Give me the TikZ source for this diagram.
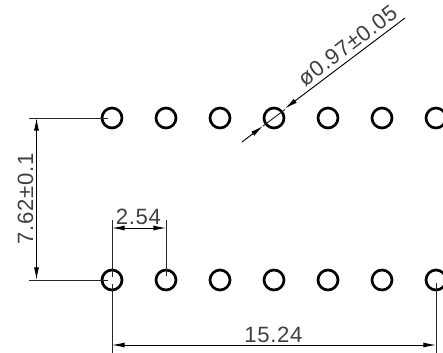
\documentclass[tikz,border=0pt]{standalone}
\usepackage{fontspec}
\setmainfont{Liberation Sans}
\newfontfamily\dimfont{Liberation Sans}[LetterSpace=3]
\usetikzlibrary{arrows.meta}
\tikzset{
  hole/.style={circle,draw=black,line width=2pt,minimum size=15pt,inner sep=0pt},
  dimline/.style={line width=0.7pt,black,{Latex[length=9.5pt,width=3.8pt]}-{Latex[length=9.5pt,width=3.8pt]}},
  leaderline/.style={line width=0.7pt,black,-{Latex[length=9.5pt,width=3.8pt]}},
  extline/.style={line width=0.7pt,black!85},
  dimtext/.style={inner sep=0pt,font=\dimfont\fontsize{16.6pt}{17pt}\selectfont,text=black!75}
}
\begin{document}
\begin{tikzpicture}[x=0.75pt,y=-0.75pt]
\useasboundingbox[clip] (0,0) rectangle (443,353);
\foreach \i/\px in {1/112,2/166,3/220,4/274,5/328,6/382,7/436}{
  \node[hole] (t\i) at (\px,118) {};
  \node[hole] (b\i) at (\px,280) {};
}
% free ends
\coordinate (tl) at (29,118);
\coordinate (bl) at (29,280);
\coordinate (tend) at (108,118);
\coordinate (bend) at (108,280);
\coordinate (vt) at (36.5,118);
\coordinate (vb) at (36.5,280);
\coordinate (a1) at (112,220);
\coordinate (a2) at (112,277);
\coordinate (a3) at (112,284);
\coordinate (a4) at (112,353);
\coordinate (c1) at (166,220);
\coordinate (c2) at (166,276);
\coordinate (d1) at (112,228);
\coordinate (d2) at (166,228);
\coordinate (e1) at (112,345);
\coordinate (e2) at (436,345);
\coordinate (f1) at (436,283);
\coordinate (f2) at (436,353);
\coordinate (g1) at (405,18);
\coordinate (g2) at (285,108.5);
\coordinate (g3) at (242,142);
\coordinate (g4) at (263,126);
\coordinate (g5) at (285,109.5);
% extension lines
\draw[extline] (tl) -- (tend);
\draw[extline] (bl) -- (bend);
\draw[extline] (a1) -- (a2);
\draw[extline] (a3) -- (a4);
\draw[extline] (c1) -- (c2);
\draw[extline] (f1) -- (f2);
% dimension lines
\draw[dimline] (vt) -- (vb);
\draw[dimline] (d1) -- (d2);
\draw[dimline] (e1) -- (e2);
\draw[leaderline] (g1) -- (g2);
\draw[leaderline] (g3) -- (g4);
\draw[extline] (g4) -- (g5);
% labels
\node[dimtext] (lh) at (273.5,334.5) {15.24};
\node[dimtext] (lp) at (138.5,217) {2.54};
\node[dimtext,rotate=90] (lv) at (25.5,199) {7.62±0.1};
\node[dimtext,rotate=37.3] (ld) at (347.5,45.5) {ø0.97±0.05};
\end{tikzpicture}
\end{document}
